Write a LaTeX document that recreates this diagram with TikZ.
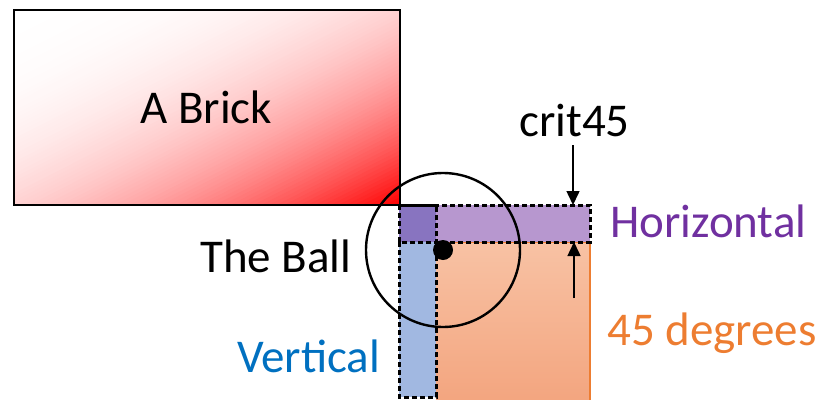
\documentclass[tikz,border=0pt]{standalone}
\usepackage{fontspec}
\setmainfont{Carlito}
\usetikzlibrary{arrows.meta}

\definecolor{hbarfill}{HTML}{B797CF}
\definecolor{vbarfill}{HTML}{A1B8E1}
\definecolor{overlapfill}{HTML}{8874C0}
\definecolor{orangeedge}{HTML}{ED7D31}
\definecolor{orangetop}{HTML}{F8C2A4}
\definecolor{orangebot}{HTML}{F3A57F}
\definecolor{purpletext}{HTML}{7030A0}
\definecolor{bluetext}{HTML}{0070C0}

\tikzset{
  lbl/.style={inner sep=0pt, anchor=base west, font=\fontsize{47}{56}\selectfont},
  zone/.style={draw=black, line width=3pt, dash pattern=on 5pt off 3pt},
  pointer/.style={line width=1.5pt, -{Triangle[width=13pt,length=14pt]}},
}

\begin{document}
\begin{tikzpicture}[x=1pt,y=-1pt]
\useasboundingbox (0,0) rectangle (826,399);

% the brick: diagonal white-to-red gradient built from thin strips
% whose edges run parallel to the rectangle's rising diagonal
\begin{scope}
  \clip (14,10) rectangle (400,205);
  \foreach \i in {0,...,99} {
    \pgfmathsetmacro\sa{\i/50}
    \pgfmathsetmacro\sb{(\i+1.4)/50}
    \pgfmathsetmacro\amt{100*((\i+0.5)/100)^2.5}
    \fill[red!\amt]
      ({14+386*(\sa+1)},-185) -- ({14+386*(\sb+1)},-185)
      -- ({14+386*(\sb-2)},400) -- ({14+386*(\sa-2)},400) -- cycle;
  }
\end{scope}
\draw[line width=2.8pt] (14,10) rectangle (400,205);
\node[lbl] (brick) at (140,123) {A Brick};

% 45 degree zone
\shade[top color=orangetop, bottom color=orangebot] (436,242) rectangle (590,402);
\draw[orangeedge, line width=1.2pt] (436,242) -- (590,242) -- (590,402);

% vertical and horizontal zones
\fill[vbarfill] (399,242) rectangle (436,397);
\fill[hbarfill] (436,205) rectangle (590,242);
\fill[overlapfill] (399,205) rectangle (436,242);
\draw[zone] (399,242) rectangle (436,397);
\draw[zone] (399,205) rectangle (590,242);
\draw[zone] (399,205) rectangle (436,242);

% the ball and its reach
\coordinate (ballc) at (443,250);
\draw[line width=2.4pt] (ballc) circle[radius=77pt];
\fill (ballc) circle[radius=10pt];

% labels
\node[lbl] (ball) at (200,272) {The Ball};
\node[lbl, text=bluetext] (vert) at (237,372) {Vertical};
\node[lbl, text=purpletext] (horiz) at (610,237) {Horizontal};
\node[lbl, text=orangeedge] (deg) at (607,345) {45 degrees};
\node[lbl] (crit) at (519,136) {crit45};

% crit45 markers
\coordinate (critfrom) at (573,145);
\coordinate (hbartop) at (573,205);
\coordinate (upfrom) at (574,298);
\coordinate (hbarbot) at (574,242);
\draw[pointer] (critfrom) -- (hbartop);
\draw[pointer] (upfrom) -- (hbarbot);
\end{tikzpicture}
\end{document}
